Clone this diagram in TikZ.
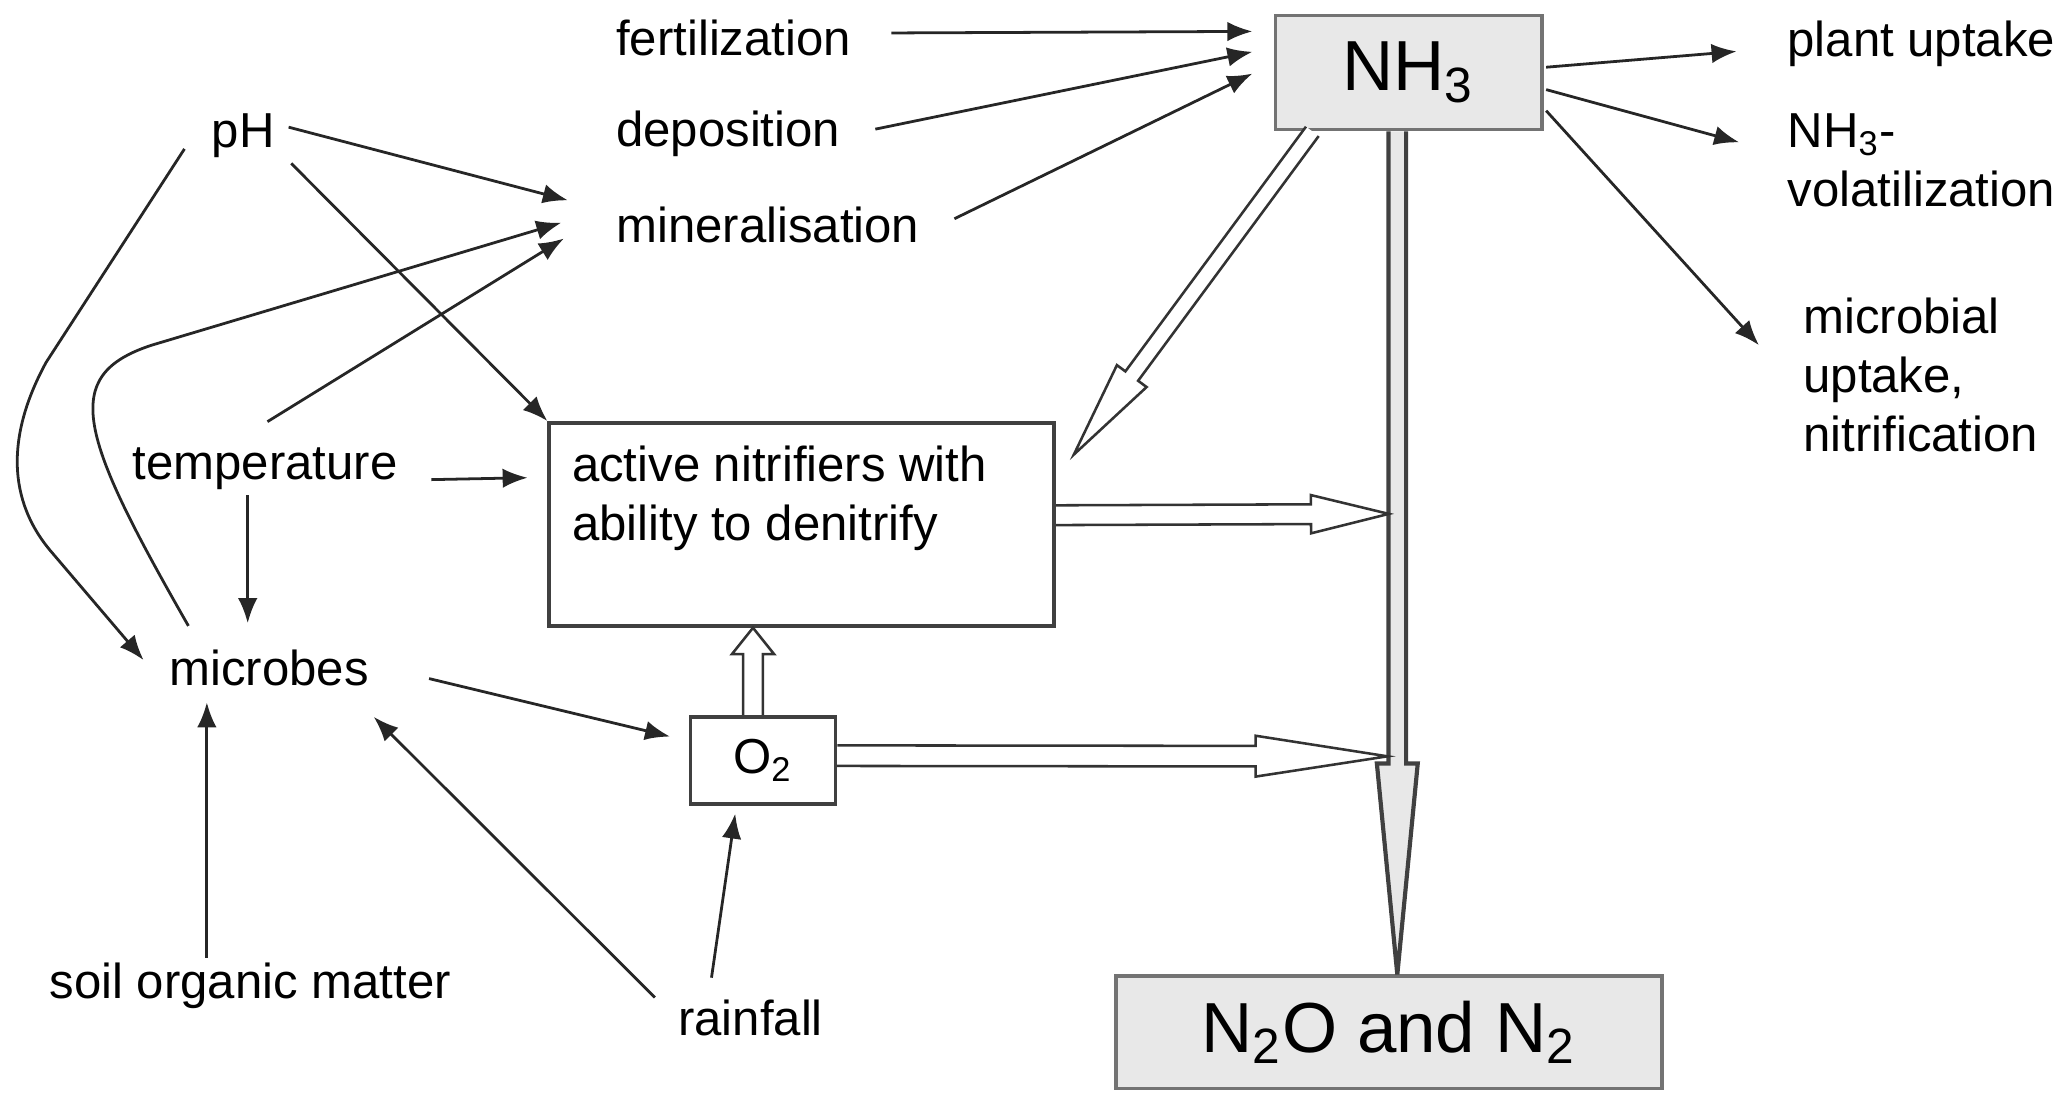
\documentclass[tikz,border=0pt]{standalone}
\usepackage{fontspec}
\setmainfont{Liberation Sans}
\usepackage{tikz}
\usetikzlibrary{arrows.meta,calc}
\newcommand\txtfont{\fontsize{10.6}{12.8}\selectfont}
\newcommand\chemfont{\fontsize{15.3}{18}\selectfont}
\tikzset{
	lbl/.style={anchor=base west, inner sep=0pt, align=left, font=\txtfont},
	arr/.style={-{Latex[length=5.4pt,width=4.2pt]}, line width=0.6pt, black!85},
	greybox/.style={draw=black!55, line width=0.8pt, fill=black!9, font=\chemfont},
	plainbox/.style={draw=black!75, line width=0.8pt},
	fat/.style={draw=black!80, line width=0.55pt, fill=white},
	fatgrey/.style={draw=black!75, line width=0.9pt, fill=black!9},
}
% hollow arrow: [style]{from}{to}{shaft half width}{head half width}{head length}
\newcommand\hollowarrow[6][fat]{
	\coordinate (hb) at ($(#3)!#6!(#2)$);
	\draw[#1] ($(#2)!#4!90:(#3)$) -- ($(hb)!#4!90:(#3)$) -- ($(hb)!#5!90:(#3)$) -- (#3) -- ($(hb)!#5!-90:(#3)$) -- ($(hb)!#4!-90:(#3)$) -- ($(#2)!#4!-90:(#3)$);
}
\begin{document}
\begin{tikzpicture}[x=0.01cm, y=-0.01cm]
	\useasboundingbox (0,0) rectangle (1568,832);
	
	% boxes
	\node[greybox, minimum width=2.02cm, minimum height=0.865cm] (nh3) at (1069,55) {NH\textsubscript{3}};
	\node[greybox, minimum width=4.14cm, minimum height=0.85cm] (ntwo) at (1054,783.5) {N\textsubscript{2}O and N\textsubscript{2}};
	\node[plainbox, minimum width=3.83cm, minimum height=1.54cm] (nitri) at (608.5,398) {};
	\node[lbl] (nitritxt) at ([shift={(18,91)}]nitri.north west) {active nitrifiers with\\ability to denitrify};
	\node[plainbox, minimum width=1.1cm, minimum height=0.66cm, font=\txtfont] (otwo) at (579,577) {O\textsubscript{2}};
	
	% labels
	\node[lbl] (fert) at (467,42) {fertilization};
	\node[lbl] (dep) at (467,111) {deposition};
	\node[lbl] (mineral) at (467,184) {mineralisation};
	\node[lbl] (ph) at (160,112) {pH};
	\node[lbl] (temp) at (100,364) {temperature};
	\node[lbl] (micro) at (128,520) {microbes};
	\node[lbl] (soil) at (37,758) {soil organic matter};
	\node[lbl] (rain) at (514,786) {rainfall};
	\node[lbl] (plant) at (1356,43) {plant uptake};
	\node[lbl] (volat) at (1356,157) {NH\textsubscript{3}-\\volatilization};
	\node[lbl] (microb) at (1368,343) {microbial\\uptake,\\nitrification};
	
	% sources of NH3
	\foreach \src/\sx/\sy/\ey in {fert/30/-17/13.5, dep/26/-13/29, mineral/26/-18/45.5}
		\draw[arr] ([shift={(\sx,\sy)}]\src.base east) -- ([shift={(-16,\ey)}]nh3.north west);
	
	% sinks of NH3
	\foreach \dst/\sy/\ex/\ey in {plant/-4/-38/-4, volat/13/-36/-49, microb/29/-33/-81}
		\draw[arr] ([shift={(2,\sy)}]nh3.east) -- ([shift={(\ex,\ey)}]\dst.base west);
	
	% controls
	\draw[arr] ([shift={(10,-15.5)}]ph.base east) -- ([shift={(-36,-32)}]mineral.base west);
	\draw[arr] ([shift={(12,12)}]ph.base east) -- (nitri.north west);
	\draw[arr] ([shift={(-20,1)}]ph.base west) -- (35,275) .. controls (5,330) and (5,380) .. (40,420) -- ([shift={(-19,-19)}]micro.base west);
	\draw[arr] ([shift={(15,-45)}]micro.base west) .. controls (60,330) and (45,285) .. (115,262) -- ([shift={(-41,-15)}]mineral.base west);
	\draw[arr] ([shift={(103,-44)}]temp.base west) -- ([shift={(-39,-3)}]mineral.base west);
	\draw[arr] ([shift={(25,0)}]temp.base east) -- ([shift={(-15,43)}]nitri.north west);
	\draw[arr] ([shift={(88,12)}]temp.base west) -- ([shift={(60,-47)}]micro.base west);
	\draw[arr] ([shift={(45,-5)}]micro.base east) -- ([shift={(-14,-18)}]otwo.west);
	\draw[arr] ([shift={(120,-31)}]soil.base west) -- ([shift={(29,13)}]micro.base west);
	\draw[arr] ([shift={(-17,-29)}]rain.base west) -- ([shift={(3,24)}]micro.base east);
	\draw[arr] ([shift={(26,-44)}]rain.base west) -- ([shift={(-21,6)}]otwo.south);
	
	% double arrows
	\coordinate (jn1) at (1054,390);
	\coordinate (jn2) at (1053,574);
	\coordinate (tipd) at (815,345);
	\hollowarrow[fatgrey]{[shift={(-8.5,0)}]nh3.south}{[shift={(6.5,0)}]ntwo.north}{0.067cm}{0.155cm}{1.6cm}
	\hollowarrow{[shift={(-73,0)}]nh3.south}{tipd}{0.06cm}{0.14cm}{0.74cm}
	\hollowarrow{[shift={(0,-7)}]nitri.east}{jn1}{0.075cm}{0.145cm}{0.59cm}
	\hollowarrow{[shift={(-7.5,0)}]otwo.north}{[shift={(-37,0)}]nitri.south}{0.075cm}{0.16cm}{0.2cm}
	\hollowarrow{[shift={(0,-3.5)}]otwo.east}{jn2}{0.078cm}{0.155cm}{1.0cm}
\end{tikzpicture}
\end{document}
